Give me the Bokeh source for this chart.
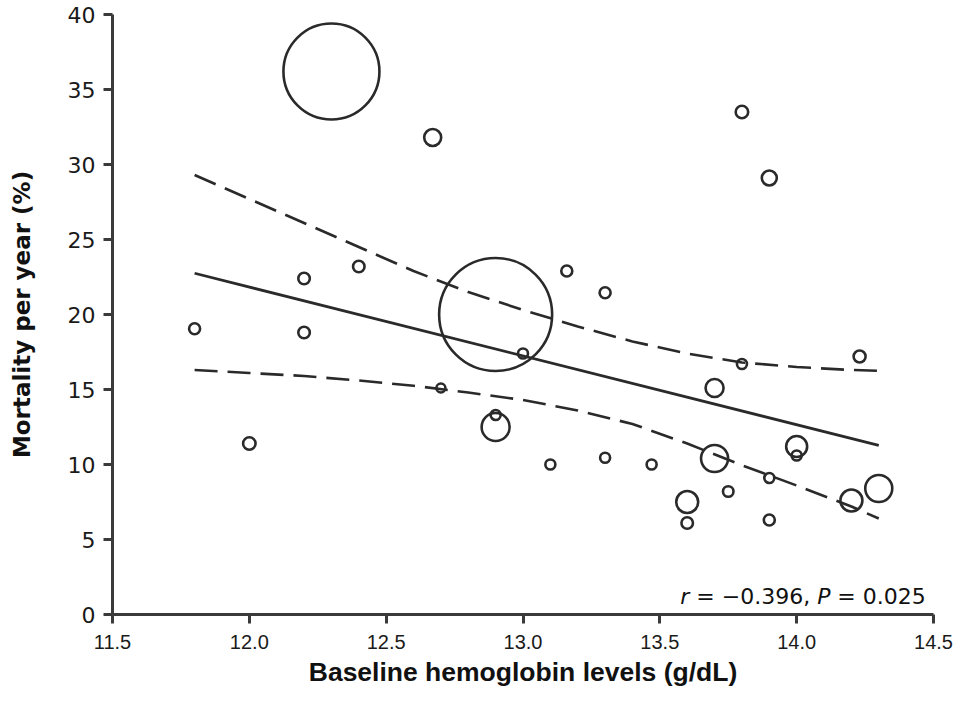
from bokeh.plotting import figure
from bokeh.models import Range1d, FixedTicker, Label, ColumnDataSource
from bokeh.embed import file_html
from bokeh.resources import INLINE
import math

# ---- data ----
hemoglobin = [12.3, 12.67, 12.9, 12.2, 12.4, 11.8, 12.2, 12.0, 12.7, 12.9, 12.9, 13.0,
              13.1, 13.16, 13.3, 13.3, 13.47, 13.6, 13.6, 13.7, 13.7, 13.75, 13.8, 13.8,
              13.9, 13.9, 13.9, 14.0, 14.0, 14.2, 14.23, 14.3]
mortality = [36.2, 31.8, 20.0, 22.4, 23.2, 19.05, 18.8, 11.4, 15.1, 12.5, 13.3, 17.4,
             10.0, 22.9, 21.45, 10.45, 10.0, 7.5, 6.1, 15.1, 10.4, 8.2, 33.5, 16.7,
             29.1, 9.1, 6.3, 11.2, 10.6, 7.6, 17.2, 8.4]
study_weight = [144.0, 4.5, 199.5, 2.07, 2.07, 1.89, 2.07, 2.44, 1.27, 12.25, 1.56, 1.56,
                1.56, 1.89, 1.89, 1.56, 1.56, 7.56, 2.07, 5.06, 11.4, 1.72, 2.44, 1.56,
                3.52, 1.56, 1.89, 6.89, 1.56, 7.56, 2.25, 11.4]

fit_x = [11.8, 14.3]
fit_y = [22.75, 11.27]

ci_x = [11.8, 12.0, 12.2, 12.4, 12.6, 12.8, 13.0, 13.2, 13.4, 13.6, 13.8, 14.0, 14.2, 14.3]
ci_upper = [29.3, 27.7, 26.1, 24.5, 22.9, 21.5, 20.3, 19.2, 18.2, 17.4, 16.8, 16.5, 16.3, 16.25]
ci_lower = [16.3, 16.1, 15.9, 15.6, 15.25, 14.8, 14.3, 13.6, 12.7, 11.4, 9.95, 8.6, 7.2, 6.4]

x_ticks = [11.5, 12.0, 12.5, 13.0, 13.5, 14.0, 14.5]
y_ticks = [0, 5, 10, 15, 20, 25, 30, 35, 40]

# ---- figure ----
p = figure(width=953, height=692, output_backend="svg", toolbar_location=None,
           x_range=Range1d(11.5, 14.5), y_range=Range1d(0, 40),
           min_border_left=112, min_border_right=20, min_border_top=14,
           min_border_bottom=78)
p.outline_line_color = None
p.xgrid.visible = False
p.ygrid.visible = False
p.background_fill_color = "white"
p.border_fill_color = "white"

ink = "#2a2a2a"
axis_col = "#3a3a3a"

for ax in (p.xaxis[0], p.yaxis[0]):
    ax.axis_line_color = axis_col
    ax.axis_line_width = 3
    ax.major_tick_line_color = axis_col
    ax.major_tick_line_width = 3
    ax.major_tick_out = 9
    ax.major_tick_in = 0
    ax.minor_tick_line_color = None
    ax.major_label_text_color = "#1a1a1a"
    ax.axis_label_text_color = "#111111"
    ax.axis_label_text_font_style = "bold"

p.xaxis.ticker = FixedTicker(ticks=x_ticks)
p.xaxis.major_label_overrides = {t: f"{t:.1f}" for t in x_ticks}
p.xaxis.major_label_text_font = "Liberation Sans"
p.xaxis.major_label_text_font_size = "20px"
p.xaxis.major_label_standoff = 11
p.xaxis.axis_label = "Baseline hemoglobin levels (g/dL)"
p.xaxis.axis_label_text_font = "Liberation Sans"
p.xaxis.axis_label_text_font_size = "26.5px"
p.xaxis.axis_label_standoff = 5

p.yaxis.ticker = FixedTicker(ticks=y_ticks)
p.yaxis.major_label_text_font = "DejaVu Sans"
p.yaxis.major_label_text_font_size = "22px"
p.yaxis.major_label_standoff = 8
p.yaxis.axis_label = "Mortality per year (%)"
p.yaxis.axis_label_text_font = "DejaVu Sans"
p.yaxis.axis_label_text_font_size = "23px"
p.yaxis.axis_label_standoff = 30

# confidence band and regression line
p.line(ci_x, ci_upper, line_color=ink, line_width=2.6, line_dash="23 10")
p.line(ci_x, ci_lower, line_color=ink, line_width=2.6, line_dash="23 10")
p.line(fit_x, fit_y, line_color=ink, line_width=2.8)

# bubbles (area proportional to study weight)
src = ColumnDataSource(dict(x=hemoglobin, y=mortality,
                            size=[8 * math.sqrt(w) for w in study_weight]))
p.scatter("x", "y", size="size", source=src, marker="circle",
          fill_color=None, line_color=ink, line_width=2.6)

# annotation with italic r and P
font = "DejaVu Sans"
fs = "22px"
parts = [("r", "italic", 0), ("= \u22120.396,", "normal", 16), ("P", "italic", 137), ("= 0.025", "normal", 157)]
for txt, style, off in parts:
    p.add_layout(Label(x=13.575, y=1.18, text=txt, x_offset=off,
                       text_font=font, text_font_size=fs, text_font_style=style,
                       text_color="#111111", text_align="left", text_baseline="alphabetic"))

open("out.html", "w").write(file_html(p, INLINE))
